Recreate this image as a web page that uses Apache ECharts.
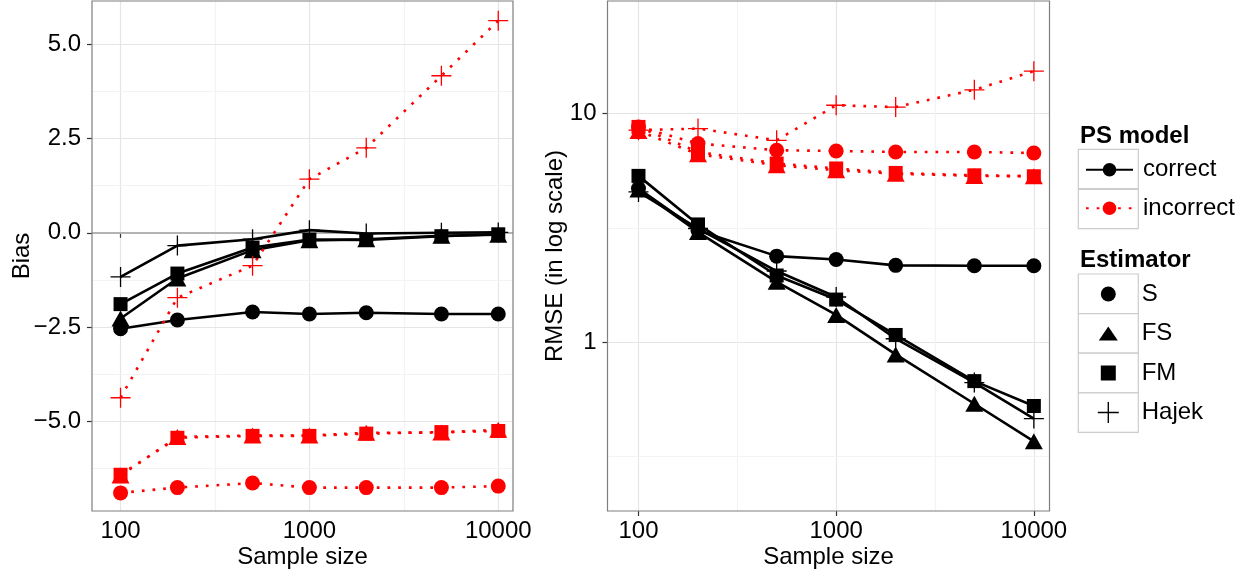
<!DOCTYPE html>
<html><head><meta charset="utf-8">
<script src="https://cdn.jsdelivr.net/npm/echarts@6/dist/echarts.min.js"></script>
<style>html,body{margin:0;padding:0;background:#fff}#c{width:1255px;height:572px}</style>
</head><body><div id="c"></div>
<script>
// ---------------- data ----------------
const sampleSizes = [100, 200, 500, 1000, 2000, 5000, 10000];
const estimators = ['S', 'FS', 'FM', 'Hajek'];
const models = ['correct', 'incorrect'];

// Bias (left panel)
const biasCorrectS     = [-2.54, -2.31, -2.10, -2.15, -2.12, -2.15, -2.15];
const biasCorrectFS    = [-2.27, -1.21, -0.46, -0.20, -0.17, -0.08, -0.05];
const biasCorrectFM    = [-1.89, -1.08, -0.39, -0.18, -0.19, -0.09, -0.04];
const biasCorrectHajek = [-1.17, -0.34, -0.17, 0.07, -0.02, 0.00, 0.01];
const biasIncorrectS     = [-6.89, -6.75, -6.63, -6.75, -6.75, -6.75, -6.71];
const biasIncorrectFS    = [-6.43, -5.41, -5.37, -5.37, -5.30, -5.29, -5.22];
const biasIncorrectFM    = [-6.41, -5.43, -5.38, -5.38, -5.32, -5.28, -5.25];
const biasIncorrectHajek = [-4.37, -1.72, -0.87, 1.42, 2.25, 4.16, 5.62];

// RMSE (right panel, log scale)
const rmseCorrectS     = [4.69, 3.08, 2.38, 2.30, 2.17, 2.16, 2.16];
const rmseCorrectFS    = [4.64, 3.03, 1.84, 1.32, 0.889, 0.542, 0.372];
const rmseCorrectFM    = [5.32, 3.27, 1.96, 1.54, 1.08, 0.68, 0.53];
const rmseCorrectHajek = [4.53, 3.14, 2.05, 1.58, 1.04, 0.67, 0.467];
const rmseIncorrectS     = [8.69, 7.36, 6.88, 6.83, 6.76, 6.76, 6.69];
const rmseIncorrectFS    = [8.35, 6.61, 5.92, 5.63, 5.44, 5.32, 5.30];
const rmseIncorrectFM    = [8.69, 6.76, 6.02, 5.73, 5.48, 5.35, 5.30];
const rmseIncorrectHajek = [8.41, 8.55, 7.60, 10.8, 10.6, 12.6, 15.2];

// ticks / gridlines
const xTickValues = [100, 1000, 10000];
const xMinorValues = [316.23, 3162.3];
const biasTickValues = [-5, -2.5, 0, 2.5, 5];
const biasMinorValues = [-6.25, -3.75, -1.25, 1.25, 3.75];
const rmseTickValues = [1, 10];
const rmseMinorValues = [0.31623, 3.1623];

// ---------------- styling ----------------
const FONT = 'Liberation Sans, Arial, Helvetica, sans-serif';
const PLUS = 'path://M-1,-0.065L1,-0.065L1,0.065L-1,0.065Z M-0.065,-1L0.065,-1L0.065,1L-0.065,1Z';
const symbolOf = {S: 'circle', FS: 'triangle', FM: 'rect', Hajek: PLUS};
const sizeOf = {S: 15, FS: [18, 16], FM: 14, Hajek: 20};
const colorOf = {correct: '#000000', incorrect: '#ff0000'};
const dashOf = {correct: 'solid', incorrect: [2.7, 8]};

const panelData = [
  {correct: {S: biasCorrectS, FS: biasCorrectFS, FM: biasCorrectFM, Hajek: biasCorrectHajek},
   incorrect: {S: biasIncorrectS, FS: biasIncorrectFS, FM: biasIncorrectFM, Hajek: biasIncorrectHajek}},
  {correct: {S: rmseCorrectS, FS: rmseCorrectFS, FM: rmseCorrectFM, Hajek: rmseCorrectHajek},
   incorrect: {S: rmseIncorrectS, FS: rmseIncorrectFS, FM: rmseIncorrectFM, Hajek: rmseIncorrectHajek}}
];

const series = [];
// gridlines drawn as markLines (under data)
function gridSeries(idx, xs, ys, extra) {
  const d = [];
  xs.forEach(v => d.push({xAxis: v, lineStyle: {color: '#f3f3f3', width: 1.2, type: 'solid'}}));
  ys.forEach(v => d.push({yAxis: v, lineStyle: {color: '#f3f3f3', width: 1.2, type: 'solid'}}));
  (extra || []).forEach(e => d.push(e));
  series.push({
    type: 'line', name: 'grid' + idx, data: [], xAxisIndex: idx, yAxisIndex: idx, z: 1,
    markLine: {silent: true, symbol: 'none', z: 1, label: {show: false}, animation: false, data: d}
  });
}
gridSeries(0, xMinorValues, biasMinorValues,
  biasTickValues.map(v => ({yAxis: v, lineStyle: {color: '#e5e5e5', width: 1.2, type: 'solid'}}))
    .concat([{yAxis: 0, lineStyle: {color: '#b3b3b3', width: 2, type: 'solid'}}]));
gridSeries(1, xMinorValues, rmseMinorValues);

panelData.forEach((pd, idx) => {
  models.forEach(m => {
    estimators.forEach(e => {
      const pts = sampleSizes.map((n, i) => [n, pd[m][e][i]]);
      series.push({
        type: 'line', name: `${idx}-${m}-${e}-line`, data: pts, xAxisIndex: idx, yAxisIndex: idx,
        symbol: 'none', z: 2, silent: true,
        lineStyle: {color: colorOf[m], width: 2.6, type: dashOf[m], cap: 'butt'}
      });
    });
  });
  models.forEach(m => {
    estimators.forEach(e => {
      const pts = sampleSizes.map((n, i) => [n, pd[m][e][i]]);
      series.push({
        type: 'scatter', name: `${idx}-${m}-${e}-pt`, data: pts, xAxisIndex: idx, yAxisIndex: idx,
        symbol: symbolOf[e], symbolSize: sizeOf[e], z: 3, silent: true,
        itemStyle: {color: colorOf[m], opacity: 1}
      });
    });
  });
});

// legend-only series
models.forEach(m => series.push({
  type: 'line', name: m, data: [], symbol: 'circle', symbolSize: 14,
  lineStyle: {color: colorOf[m], width: 2.6, type: dashOf[m]}, itemStyle: {color: colorOf[m], opacity: 1}
}));
estimators.forEach(e => series.push({
  type: 'scatter', name: e, data: [], symbol: symbolOf[e], itemStyle: {color: '#000', opacity: 1}
}));

// ---------------- axes ----------------
const xFmt = v => String(Math.round(v));
const axisLabelBase = {fontSize: 24, color: '#000', fontFamily: FONT};
const tickBase = {show: true, length: 5, lineStyle: {color: '#333', width: 1.2}};

function xAxis(idx, min, max) {
  return {
    gridIndex: idx, type: 'log', logBase: 10, min: min, max: max,
    axisLine: {show: false},
    axisTick: Object.assign({}, tickBase),
    axisLabel: Object.assign({}, axisLabelBase, {margin: 8, formatter: xFmt, showMinLabel: false, showMaxLabel: false}),
    splitLine: {show: true, showMinLine: false, showMaxLine: false, lineStyle: {color: '#e5e5e5', width: 1.2}},
    name: 'Sample size', nameLocation: 'middle', nameGap: 34, nameMoveOverlap: false,
    nameTextStyle: {fontSize: 24, color: '#000', fontFamily: FONT}
  };
}

const grids = [
  {left: 92, top: 1, width: 421, height: 510},
  {left: 607.5, top: 1, width: 442, height: 510}
];

// legend helpers
const legendText = pad => ({fontSize: 24, color: '#000', fontFamily: FONT, lineHeight: 24, padding: [0, 0, 0, pad]});
const estLegendRows = [
  {name: 'S', w: 15, h: 15, cy: 294},
  {name: 'FS', w: 19, h: 14, cy: 333.5, keep: false},
  {name: 'FM', w: 15, h: 15, cy: 373},
  {name: 'Hajek', w: 21, h: 21, cy: 412.5}
];
const legendIconCx = 1108.3, legendTextX = 1141.7;

const option = {
  animation: false,
  backgroundColor: '#ffffff',
  textStyle: {fontFamily: FONT},
  grid: grids.map(g => Object.assign({show: false, containLabel: false, outerBoundsMode: 'none'}, g)),
  xAxis: [xAxis(0, 70.6, 11970), xAxis(1, 69.7, 12000)],
  yAxis: [
    {
      gridIndex: 0, type: 'value', min: -7.37, max: 6.14,
      axisLine: {show: false},
      axisTick: Object.assign({}, tickBase, {customValues: biasTickValues}),
      axisLabel: Object.assign({}, axisLabelBase, {margin: 11, customValues: biasTickValues,
        formatter: v => (v < 0 ? '\u2212' : '') + Math.abs(v).toFixed(1)}),
      splitLine: {show: false},
      name: 'Bias', nameLocation: 'middle', nameGap: 58, nameMoveOverlap: false,
      nameTextStyle: {fontSize: 24, color: '#000', fontFamily: FONT}
    },
    {
      gridIndex: 1, type: 'log', logBase: 10, min: 0.185, max: 30.7,
      axisLine: {show: false},
      axisTick: Object.assign({}, tickBase),
      axisLabel: Object.assign({}, axisLabelBase, {margin: 11, showMinLabel: false, showMaxLabel: false,
        formatter: v => String(Number(v.toPrecision(6)))}),
      splitLine: {show: true, showMinLine: false, showMaxLine: false, lineStyle: {color: '#e5e5e5', width: 1.2}},
      name: 'RMSE (in log scale)', nameLocation: 'middle', nameGap: 40, nameMoveOverlap: false,
      nameTextStyle: {fontSize: 24, color: '#000', fontFamily: FONT}
    }
  ],
  legend: [
    {
      data: models, orient: 'vertical', left: 1085, top: 157.7, padding: 0,
      itemWidth: 47, itemHeight: 17, itemGap: 14.6, selectedMode: false,
      textStyle: legendText(5)
    }
  ].concat(estLegendRows.map(r => ({
    data: [r.name], orient: 'vertical', padding: 0,
    left: legendIconCx - r.w / 2, top: r.cy - 12,
    itemWidth: r.w, itemHeight: r.h, selectedMode: false,
    symbolKeepAspect: r.keep !== false,
    textStyle: legendText(legendTextX - (legendIconCx - r.w / 2) - r.w - 5)
  }))),
  graphic: [
    // panel borders
    ...grids.map(g => ({type: 'rect', z: 100, silent: true,
      shape: {x: g.left, y: g.top, width: g.width, height: g.height},
      style: {fill: 'none', stroke: '#7f7f7f', lineWidth: 1.2}})),
    // legend key boxes
    ...[149.3, 189.3].map(y => ({type: 'rect', z: 0, silent: true,
      shape: {x: 1078.3, y: y, width: 60, height: 39.3}, style: {fill: '#fff', stroke: '#cccccc', lineWidth: 1.2}})),
    ...[274, 313.6, 353.2, 392.8].map(y => ({type: 'rect', z: 0, silent: true,
      shape: {x: 1078.3, y: y, width: 60, height: 39.5}, style: {fill: '#fff', stroke: '#cccccc', lineWidth: 1.2}})),
    {type: 'text', x: 1080, y: 136.5, silent: true,
      style: {text: 'PS model', fontSize: 24, fontWeight: 'bold', fontFamily: FONT, fill: '#000', align: 'left', verticalAlign: 'middle'}},
    {type: 'text', x: 1080, y: 260.5, silent: true,
      style: {text: 'Estimator', fontSize: 24, fontWeight: 'bold', fontFamily: FONT, fill: '#000', align: 'left', verticalAlign: 'middle'}}
  ],
  series: series
};

const chart = echarts.init(document.getElementById('c'), null, {renderer: 'canvas'});
chart.setOption(option);
</script>
</body></html>
